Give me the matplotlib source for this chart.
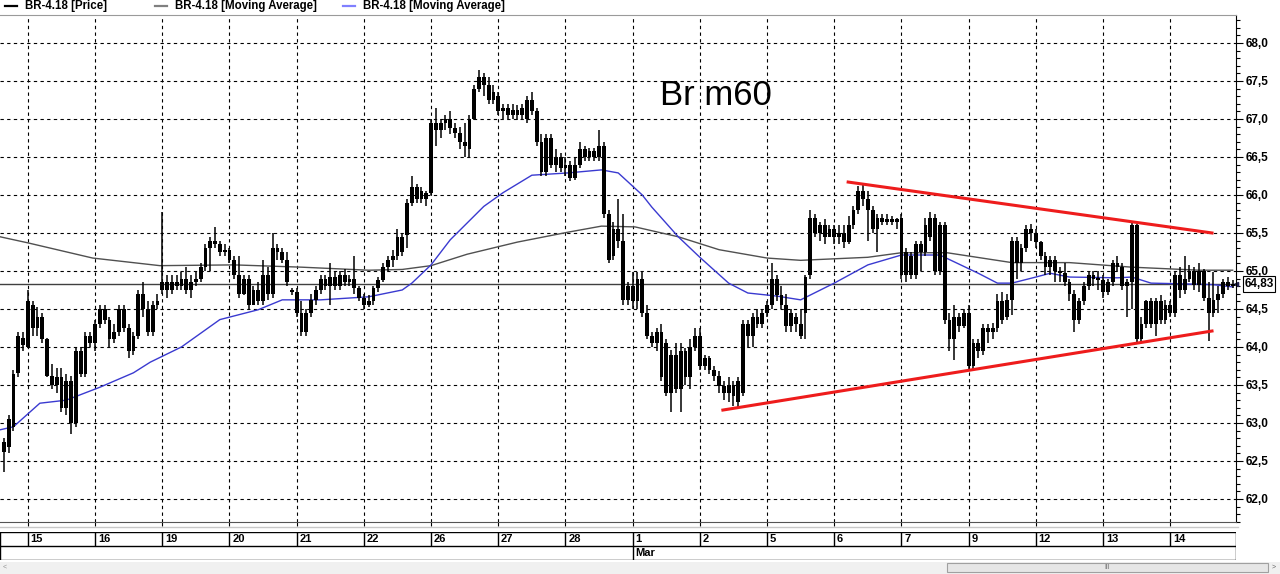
import matplotlib
matplotlib.use("Agg")
import matplotlib.pyplot as plt
from matplotlib.lines import Line2D
from matplotlib.patches import Rectangle
from matplotlib.ticker import MultipleLocator, FuncFormatter

plt.rcParams['font.family'] = ['Liberation Sans', 'DejaVu Sans']

# hourly bars, BR-4.18; first 5 bars are the tail of Feb 14, then 14 bars per day
opens = [
    62.75, 62.68, 62.95, 63.66, 64.12,
    64.0, 64.55, 64.25, 64.4, 64.1, 63.62, 63.5, 63.6, 63.2, 63.55, 63.0, 63.95, 63.65, 64.15,
    64.05, 64.3, 64.5, 64.35, 64.1, 64.2, 64.5, 64.25, 63.95, 64.15, 64.7, 64.5, 64.2, 64.55,
    64.75, 64.85, 64.75, 64.85, 64.8, 64.9, 64.75, 64.85, 64.9, 65.05, 65.3, 65.4, 65.35, 65.25,
    65.28, 65.15, 64.95, 64.7, 64.9, 64.55, 64.75, 64.6, 64.95, 64.7, 65.3, 65.25, 65.15, 64.75,
    64.72, 64.45, 64.2, 64.45, 64.62, 64.75, 64.9, 64.8, 64.92, 64.8, 64.95, 64.85, 64.9, 64.78,
    64.65, 64.55, 64.6, 64.78, 64.88, 65.05, 65.15, 65.2, 65.45, 65.47, 65.9, 66.1, 65.95, 66.02,
    66.03, 66.95, 66.85, 66.95, 67.0, 66.88, 66.82, 66.7, 66.6, 67.0, 67.4, 67.55, 67.45, 67.25,
    67.3, 67.1, 67.15, 67.05, 67.12, 67.05, 67.0, 67.25, 67.1, 66.7, 66.3, 66.75, 66.4, 66.5,
    66.35, 66.4, 66.22, 66.4, 66.6, 66.5, 66.58, 66.5, 66.65, 65.75, 65.2, 65.55, 65.4, 64.62,
    64.8, 64.6, 64.9, 64.45, 64.15, 64.05, 64.2, 64.05, 63.4, 63.9, 63.45, 63.95, 63.6, 64.0,
    64.15, 63.75, 63.85, 63.7, 63.62, 63.48, 63.4, 63.5, 63.28, 63.4, 64.3, 64.15, 64.4, 64.3,
    64.45, 64.55, 64.9, 64.68, 64.55, 64.28, 64.4, 64.3, 64.45, 64.95, 65.7, 65.5, 65.6, 65.45,
    65.55, 65.45, 65.5, 65.38, 65.6, 65.8, 66.05, 65.95, 65.8, 65.55, 65.7, 65.65, 65.68, 65.65,
    65.7, 64.95, 65.2, 64.95, 65.35, 65.25, 65.45, 65.7, 65.0, 65.6, 64.35, 64.1, 64.4, 64.28,
    64.45, 63.75, 64.05, 63.95, 64.25, 64.2, 64.25, 64.6, 64.4, 64.62, 65.4, 65.1, 65.3, 65.55,
    65.5, 65.38, 65.2, 65.05, 65.15, 65.0, 64.97, 64.85, 64.7, 64.35, 64.6, 64.8, 64.95, 64.9,
    64.88, 64.72, 64.85, 65.1, 65.05, 64.8, 64.85, 65.6, 64.1, 64.3, 64.6, 64.3, 64.6, 64.35,
    64.55, 64.45, 64.95, 64.75, 64.9, 65.0, 64.82, 65.0, 64.65, 64.45, 64.62, 64.7, 64.85, 64.8,
]
highs = [
    62.8, 63.1, 63.7, 64.2, 64.2,
    64.75, 64.6, 64.52, 64.45, 64.12, 63.78, 63.72, 63.72, 63.65, 63.62, 64.0, 64.0, 64.2, 64.2,
    64.35, 64.55, 64.55, 64.4, 64.3, 64.55, 64.55, 64.3, 64.2, 64.75, 64.85, 64.6, 64.6, 64.7,
    65.78, 64.95, 64.95, 64.95, 64.98, 65.05, 64.95, 65.0, 65.1, 65.35, 65.45, 65.58, 65.4, 65.35,
    65.3, 65.2, 65.2, 64.95, 64.95, 64.8, 64.85, 65.15, 65.05, 65.5, 65.35, 65.3, 65.25, 64.78,
    64.78, 64.6, 64.5, 64.7, 64.8, 64.95, 64.95, 65.1, 65.0, 65.0, 65.02, 64.95, 65.2, 64.8,
    64.7, 64.68, 64.8, 64.92, 65.1, 65.2, 65.28, 65.55, 65.5, 65.95, 66.25, 66.15, 66.1, 66.05,
    67.0, 67.15, 67.0, 67.05, 67.1, 66.95, 66.9, 66.95, 67.05, 67.45, 67.65, 67.6, 67.55, 67.45,
    67.35, 67.2, 67.2, 67.2, 67.18, 67.2, 67.3, 67.35, 67.15, 66.8, 66.8, 66.8, 66.6, 66.55,
    66.5, 66.45, 66.5, 66.7, 66.65, 66.62, 66.62, 66.85, 66.7, 65.8, 65.65, 65.95, 65.75, 64.85,
    64.98, 64.98, 64.98, 64.55, 64.2, 64.25, 64.3, 64.1, 63.96, 64.05, 64.05, 63.98, 64.1, 64.25,
    64.25, 63.9, 63.88, 63.75, 63.68, 63.55, 63.6, 63.55, 63.6, 64.35, 64.35, 64.45, 64.5, 64.5,
    64.6, 65.1, 64.95, 64.8, 64.7, 64.5, 64.45, 64.5, 64.95, 65.8, 65.75, 65.65, 65.68, 65.6,
    65.6, 65.6, 65.6, 65.72, 65.85, 66.12, 66.15, 66.05, 65.85, 65.75, 65.75, 65.75, 65.72, 65.7,
    65.75, 65.3, 65.25, 65.4, 65.4, 65.7, 65.78, 65.75, 65.65, 65.65, 64.45, 64.55, 64.45, 64.5,
    64.55, 64.1, 64.1, 64.3, 64.3, 64.32, 64.7, 64.72, 64.7, 65.45, 65.45, 65.35, 65.6, 65.62,
    65.55, 65.4, 65.25, 65.2, 65.2, 65.05, 65.1, 64.9, 64.75, 64.65, 64.85, 65.0, 65.0, 65.0,
    64.95, 64.9, 65.15, 65.2, 65.1, 64.9, 65.65, 65.62, 64.4, 64.62, 64.65, 64.65, 64.68, 64.62,
    64.6, 65.0, 65.05, 65.2, 65.08, 65.05, 65.1, 65.02, 64.85, 64.98, 64.8, 64.9, 64.92, 64.88,
]
lows = [
    62.35, 62.6, 62.9, 63.6, 63.95,
    63.98, 64.15, 64.15, 64.05, 63.6, 63.45, 63.4, 63.15, 63.1, 62.85, 62.95, 63.6, 63.6, 64.0,
    63.95, 64.25, 64.3, 64.0, 64.05, 64.15, 64.2, 63.85, 63.9, 64.1, 64.4, 64.15, 64.15, 64.5,
    64.7, 64.65, 64.7, 64.75, 64.75, 64.7, 64.65, 64.8, 64.85, 65.0, 65.0, 65.3, 65.2, 65.2,
    65.1, 64.9, 64.65, 64.68, 64.5, 64.55, 64.55, 64.55, 64.62, 64.65, 65.15, 65.1, 64.8, 64.68,
    64.4, 64.15, 64.15, 64.4, 64.55, 64.7, 64.75, 64.55, 64.75, 64.75, 64.8, 64.8, 64.7, 64.6,
    64.5, 64.52, 64.55, 64.72, 64.85, 65.0, 65.05, 65.15, 65.2, 65.3, 65.85, 65.9, 65.9, 65.85,
    66.0, 66.65, 66.75, 66.85, 66.8, 66.75, 66.6, 66.5, 66.5, 66.98, 67.35, 67.3, 67.2, 67.2,
    67.05, 67.0, 67.0, 67.0, 66.98, 67.0, 66.95, 67.05, 66.65, 66.25, 66.25, 66.35, 66.3, 66.3,
    66.25, 66.18, 66.2, 66.35, 66.45, 66.45, 66.45, 66.45, 65.7, 65.1, 65.15, 65.3, 64.55, 64.55,
    64.5, 64.5, 64.4, 64.1, 64.0, 63.95, 63.55, 63.35, 63.15, 63.4, 63.15, 63.5, 63.45, 63.95,
    63.7, 63.7, 63.65, 63.55, 63.4, 63.3, 63.28, 63.22, 63.2, 63.35, 64.0, 64.0, 64.25, 64.25,
    64.4, 64.5, 64.6, 64.5, 64.2, 64.2, 64.2, 64.1, 64.1, 64.9, 65.45, 65.4, 65.35, 65.45,
    65.35, 65.35, 65.3, 65.35, 65.55, 65.75, 65.85, 65.4, 65.5, 65.25, 65.6, 65.6, 65.6, 65.55,
    64.9, 64.85, 64.9, 64.9, 65.0, 65.2, 65.4, 64.95, 64.95, 64.3, 63.95, 63.83, 64.2, 64.25,
    63.7, 63.7, 63.85, 63.9, 64.05, 64.1, 64.2, 64.3, 64.35, 64.42, 64.9, 65.0, 65.25, 65.4,
    65.3, 65.15, 64.95, 64.95, 64.85, 64.85, 64.8, 64.6, 64.2, 64.3, 64.55, 64.75, 64.8, 64.75,
    64.65, 64.68, 64.8, 64.98, 64.75, 64.4, 64.5, 64.05, 64.05, 64.25, 64.25, 64.15, 64.3, 64.3,
    64.4, 64.4, 64.65, 64.7, 64.85, 64.75, 64.72, 64.6, 64.08, 64.4, 64.45, 64.65, 64.75, 64.78,
]
closes = [
    62.62, 63.05, 63.65, 64.15, 64.02,
    64.6, 64.25, 64.4, 64.1, 63.62, 63.5, 63.6, 63.2, 63.55, 63.0, 63.95, 63.65, 64.15, 64.05,
    64.3, 64.5, 64.35, 64.1, 64.2, 64.5, 64.25, 63.95, 64.15, 64.7, 64.5, 64.2, 64.55, 64.6,
    64.85, 64.75, 64.85, 64.8, 64.9, 64.75, 64.85, 64.9, 65.05, 65.3, 65.4, 65.35, 65.25, 65.28,
    65.15, 64.95, 64.7, 64.9, 64.55, 64.75, 64.6, 64.95, 64.7, 65.3, 65.25, 65.15, 64.85, 64.72,
    64.45, 64.2, 64.45, 64.62, 64.75, 64.9, 64.8, 64.92, 64.8, 64.95, 64.85, 64.9, 64.78, 64.65,
    64.55, 64.6, 64.78, 64.88, 65.05, 65.15, 65.2, 65.45, 65.25, 65.9, 66.1, 65.95, 66.05, 65.95,
    66.95, 66.85, 66.95, 67.0, 66.88, 66.82, 66.7, 66.65, 67.0, 67.4, 67.55, 67.45, 67.25, 67.35,
    67.1, 67.15, 67.05, 67.12, 67.05, 67.15, 67.25, 67.1, 66.7, 66.3, 66.75, 66.4, 66.5, 66.35,
    66.4, 66.22, 66.4, 66.6, 66.5, 66.58, 66.5, 66.65, 65.75, 65.15, 65.55, 65.4, 64.62, 64.8,
    64.6, 64.9, 64.45, 64.15, 64.05, 64.2, 63.6, 63.4, 63.9, 63.45, 63.95, 63.6, 64.0, 64.15,
    63.75, 63.85, 63.7, 63.62, 63.48, 63.4, 63.5, 63.35, 63.55, 64.3, 64.15, 64.4, 64.3, 64.45,
    64.55, 64.9, 64.68, 64.55, 64.28, 64.45, 64.3, 64.15, 64.92, 65.7, 65.5, 65.6, 65.45, 65.55,
    65.45, 65.5, 65.38, 65.6, 65.8, 66.05, 65.95, 65.8, 65.55, 65.7, 65.65, 65.68, 65.65, 65.68,
    64.95, 65.25, 64.95, 65.35, 65.25, 65.6, 65.7, 65.0, 65.6, 64.35, 64.1, 64.4, 64.28, 64.45,
    63.75, 64.05, 63.95, 64.25, 64.2, 64.25, 64.6, 64.35, 64.62, 65.4, 65.1, 65.3, 65.55, 65.5,
    65.38, 65.2, 65.05, 65.15, 65.0, 64.97, 64.85, 64.7, 64.35, 64.6, 64.8, 64.95, 64.9, 64.88,
    64.72, 64.85, 65.1, 65.05, 64.8, 64.85, 65.6, 64.1, 64.3, 64.6, 64.3, 64.6, 64.35, 64.55,
    64.45, 64.95, 64.75, 64.9, 65.0, 64.82, 65.0, 64.65, 64.45, 64.62, 64.7, 64.85, 64.8, 64.83,
]

# moving averages at some bar positions
ma_slow_idx = [-0.8, 5, 18.5, 32.5, 48, 62, 76, 83, 89, 96.5, 107, 117.5, 124.5, 131.5,
               140.5, 149, 159, 166, 180, 187, 196.5, 210, 222, 235, 249, 256]
ma_slow = [65.45, 65.37, 65.17, 65.07, 65.08, 65.05, 65.01, 65.02, 65.07, 65.22, 65.38, 65.51,
           65.59, 65.58, 65.45, 65.28, 65.17, 65.14, 65.18, 65.24, 65.24, 65.11, 65.11, 65.05,
           65.01, 65.01]
ma_fast_idx = [-0.8, 2, 7.5, 13, 20, 27, 30.5, 37, 45, 53, 58, 66, 76, 83, 85, 89, 93, 96.5,
               100, 104, 110, 117.5, 124.5, 128, 133, 135, 140.5, 145, 151, 155, 161, 166, 173,
               180, 187, 195, 203, 207, 210, 215, 218, 222, 232, 235, 239, 246, 252, 256]
ma_fast = [62.91, 62.95, 63.26, 63.30, 63.47, 63.66, 63.80, 64.0, 64.36, 64.49, 64.62, 64.62,
           64.66, 64.75, 64.84, 65.08, 65.41, 65.63, 65.85, 66.03, 66.26, 66.29, 66.33, 66.29,
           66.0, 65.84, 65.45, 65.18, 64.84, 64.71, 64.67, 64.62, 64.84, 65.08, 65.21, 65.21,
           64.97, 64.84, 64.84, 64.92, 64.97, 64.92, 64.91, 64.92, 64.84, 64.83, 64.82, 64.79]

# hand drawn triangle
upper_x = [175.9, 251.7]
upper_y = [66.17, 65.5]
lower_x = [149.8, 251.7]
lower_y = [63.17, 64.21]

day_labels = ["15", "16", "19", "20", "21", "22", "26", "27", "28",
              "1", "2", "5", "6", "7", "9", "12", "13", "14"]
bars_before = 5
bars_per_day = 14
month_label = "Mar"
month_day = "1"
last_price = 64.83

W, H = 1280, 574
fig = plt.figure(figsize=(W / 100, H / 100), dpi=100)
fig.patch.set_facecolor('white')

def fx(px):
    return px / W

def fy(py):
    return 1 - py / H

ax = fig.add_axes([0, fy(522), fx(1236), (522 - 15) / H])

n = len(closes)
xs = list(range(n))
day_start = [bars_before + bars_per_day * i for i in range(len(day_labels))]

# grid
for v in [62.0 + 0.5 * k for k in range(13)]:
    ax.axhline(v, color='black', lw=0.8, ls=(0, (3, 3)), zorder=0)
for d in day_start:
    ax.axvline(d, color='black', lw=0.8, ls=(0, (3, 3)), zorder=0)

# candles
ax.vlines(xs, lows, highs, color='black', lw=1.1, zorder=3)
bottoms = [min(o, c) for o, c in zip(opens, closes)]
heights = [max(abs(c - o), 0.025) for o, c in zip(opens, closes)]
ax.bar(xs, heights, bottom=bottoms, width=0.8, color='black', linewidth=0, zorder=3)

ax.plot(ma_slow_idx, ma_slow, color='#505050', lw=1.0, zorder=2)
ax.plot(ma_fast_idx, ma_fast, color='#3a3ad0', lw=1.0, zorder=2)
ax.axhline(last_price, color='#404040', lw=1.0, zorder=1)

ax.plot(upper_x, upper_y, color='#ee1c1c', lw=2.2, zorder=4)
ax.plot(lower_x, lower_y, color='#ee1c1c', lw=2.2, zorder=4)

ax.text(0.534, 0.842, "Br m60", transform=ax.transAxes, fontsize=25,
        ha='left', va='center', color='black')

ax.set_xlim(-0.8, 256.7)
ax.set_ylim(61.697, 68.368)

ax.yaxis.tick_right()
ax.yaxis.set_major_locator(MultipleLocator(0.5))
ax.yaxis.set_minor_locator(MultipleLocator(0.1))
ax.yaxis.set_major_formatter(FuncFormatter(lambda v, p: f"{v:.1f}".replace('.', ',')))
ax.tick_params(axis='y', which='major', direction='out', length=5, width=0.8, pad=2,
               labelsize=8.5, colors='black')
ax.tick_params(axis='y', which='minor', direction='out', length=3, width=0.8)
for lab in ax.get_yticklabels():
    lab.set_fontweight('bold')
ax.set_xticks(day_start)
ax.tick_params(axis='x', direction='out', length=3, width=0.8, labelbottom=False)

ax.spines['left'].set_visible(False)
ax.spines['top'].set_color('#9a9a9a')
ax.spines['right'].set_color('black')
ax.spines['bottom'].set_color('#555555')

# last price tag
ax.annotate(f"{last_price:.2f}".replace('.', ','), xy=(1, last_price),
            xycoords=('axes fraction', 'data'), xytext=(6, 0), textcoords='offset points',
            ha='left', va='center', fontsize=8.5, fontweight='bold',
            bbox=dict(boxstyle='square,pad=0.15', fc='white', ec='black', lw=0.8),
            annotation_clip=False)
ax.plot([1.0], [last_price], marker='<', ms=3, color='#202050',
        transform=ax.get_yaxis_transform(), clip_on=False)

# time axis
tax = fig.add_axes([0, fy(560), fx(1236), 28 / H], sharex=ax)
tax.set_ylim(0, 2)
tax.axis('off')
tax.axhline(2, color='black', lw=1)
tax.axhline(1, color='black', lw=1)
tax.axhline(0, color='black', lw=1)
tax.vlines(day_start, 1, 2, color='black', lw=1)
for d, lab in zip(day_start, day_labels):
    tax.text(d + 0.6, 1.5, lab, fontsize=8, fontweight='bold', ha='left', va='center')
mar_x = day_start[day_labels.index(month_day)]
tax.vlines([mar_x], 0, 1, color='black', lw=1)
tax.text(mar_x + 0.6, 0.5, month_label, fontsize=8, fontweight='bold', ha='left', va='center')
tax.vlines([-0.8, 256.7], 0, 2, color='black', lw=1)

fig.add_artist(Line2D([0, fx(1238)], [fy(527), fy(527)], color='#c8c8c8', lw=1))

# legend strip
legend_items = [
    ("BR-4.18 [Price]", 'black', 5),
    ("BR-4.18 [Moving Average]", '#808080', 155),
    ("BR-4.18 [Moving Average]", '#8080ff', 343),
]
for label, col, px in legend_items:
    fig.add_artist(Line2D([fx(px), fx(px + 12)], [fy(6), fy(6)], color=col, lw=1.6))
    fig.text(fx(px + 20), fy(6), label, fontsize=8.3, fontweight='bold',
             ha='left', va='center')

# scroll bar
fig.add_artist(Rectangle((0, 0), 1, fy(562), transform=fig.transFigure,
                         fc='#f0f0f0', ec='none'))
fig.add_artist(Rectangle((fx(947), fy(572)), fx(1268 - 947), 9 / H, transform=fig.transFigure,
                         fc='#e6e6e6', ec='#a0a0a0', lw=0.8))
fig.text(fx(1107), fy(567.5), "III", fontsize=5, color='#707070', ha='center', va='center')
fig.text(fx(5), fy(567.5), "<", fontsize=5, color='#909090', ha='center', va='center')
fig.text(fx(1274), fy(567.5), ">", fontsize=5, color='#606060', ha='center', va='center')

fig.savefig("out.png", dpi=100)
